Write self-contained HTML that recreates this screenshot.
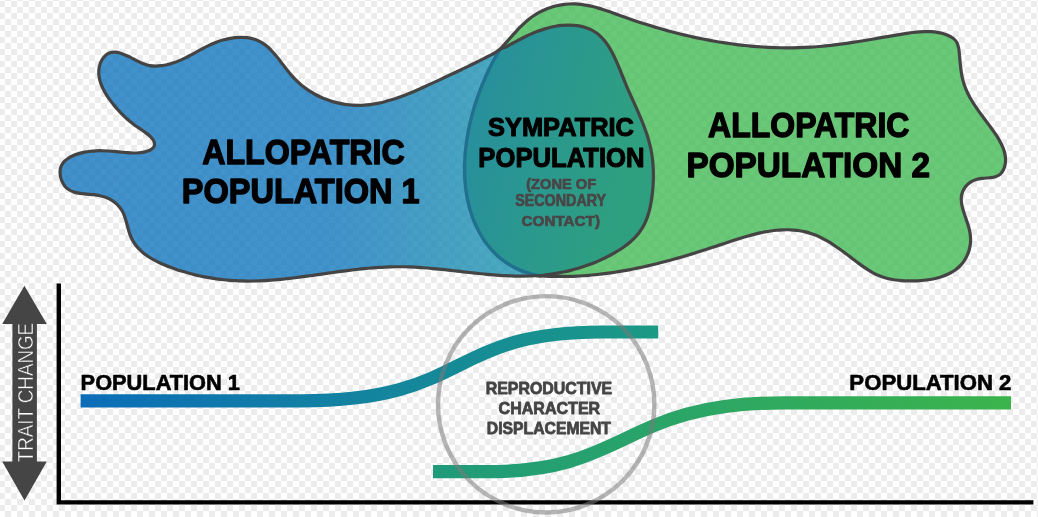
<!DOCTYPE html>
<html><head><meta charset="utf-8"><style>
html,body{margin:0;padding:0;width:1038px;height:517px;overflow:hidden;background:#fff;}
svg{display:block;will-change:transform;font-family:"Liberation Sans",sans-serif;}
</style></head><body>
<svg width="1038" height="517" viewBox="0 0 1038 517">
<defs>
<pattern id="chk" x="-1" y="1" width="12" height="12" patternUnits="userSpaceOnUse">
<rect width="12" height="12" fill="#ffffff"/><rect width="6" height="6" fill="#ececec"/><rect x="6" y="6" width="6" height="6" fill="#ececec"/>
</pattern>
<linearGradient id="gBlue" gradientUnits="userSpaceOnUse" x1="60" y1="0" x2="500" y2="0">
<stop offset="0" stop-color="#0d72bb"/><stop offset="0.6" stop-color="#0d74bd"/><stop offset="1" stop-color="#1890ae"/>
</linearGradient>
<linearGradient id="gOval" gradientUnits="userSpaceOnUse" x1="470" y1="130" x2="630" y2="170">
<stop offset="0" stop-color="#27909c"/><stop offset="1" stop-color="#2ea07f"/>
</linearGradient>
<linearGradient id="gPop1" gradientUnits="userSpaceOnUse" x1="80" y1="0" x2="658" y2="0">
<stop offset="0" stop-color="#0b6db8"/><stop offset="1" stop-color="#1b9a85"/>
</linearGradient>
<linearGradient id="gPop2" gradientUnits="userSpaceOnUse" x1="433" y1="0" x2="1011" y2="0">
<stop offset="0" stop-color="#1f9a7a"/><stop offset="1" stop-color="#3bb44c"/>
</linearGradient>
</defs>
<rect width="1038" height="517" fill="url(#chk)"/>
<path d="M500.00 49.30 C501.23 47.65 502.80 46.32 504.18 44.81 C505.55 43.30 506.89 41.78 508.23 40.27 C509.58 38.76 510.90 37.24 512.24 35.74 C513.58 34.24 514.91 32.75 516.27 31.29 C517.63 29.83 518.99 28.38 520.39 26.98 C521.79 25.57 523.21 24.19 524.67 22.86 C526.14 21.54 527.64 20.24 529.19 19.02 C530.74 17.79 532.34 16.60 534.00 15.49 C535.67 14.38 537.40 13.32 539.18 12.36 C540.99 11.38 542.86 10.48 544.77 9.66 C546.69 8.84 548.67 8.10 550.66 7.45 C552.66 6.79 554.71 6.22 556.75 5.74 C558.79 5.27 560.86 4.87 562.92 4.58 C564.96 4.29 567.01 4.09 569.04 3.99 C571.06 3.89 573.07 3.88 575.07 3.96 C577.06 4.03 579.04 4.19 581.01 4.42 C582.98 4.65 584.93 4.95 586.88 5.31 C588.82 5.67 590.76 6.10 592.68 6.57 C594.61 7.04 596.53 7.56 598.44 8.12 C600.36 8.67 602.26 9.28 604.16 9.90 C606.07 10.52 607.97 11.18 609.86 11.84 C611.76 12.51 613.66 13.20 615.56 13.88 C617.45 14.57 619.35 15.27 621.25 15.95 C623.16 16.64 625.06 17.32 626.97 17.99 C628.88 18.66 630.79 19.32 632.70 19.98 C634.62 20.63 636.54 21.27 638.46 21.91 C640.38 22.54 642.31 23.16 644.23 23.78 C646.16 24.39 648.09 25.00 650.03 25.59 C651.96 26.19 653.90 26.77 655.84 27.35 C657.78 27.92 659.72 28.48 661.67 29.04 C663.61 29.59 665.56 30.13 667.51 30.67 C669.46 31.20 671.42 31.72 673.37 32.23 C675.33 32.74 677.29 33.24 679.25 33.73 C681.21 34.22 683.17 34.70 685.14 35.16 C687.10 35.63 689.07 36.09 691.04 36.53 C693.01 36.97 694.98 37.40 696.96 37.82 C698.93 38.24 700.90 38.65 702.88 39.04 C704.86 39.44 706.84 39.82 708.82 40.19 C710.80 40.56 712.78 40.92 714.77 41.27 C716.75 41.61 718.74 41.95 720.72 42.27 C722.71 42.59 724.70 42.89 726.69 43.19 C728.68 43.48 730.67 43.76 732.66 44.03 C734.65 44.30 736.65 44.55 738.64 44.79 C740.63 45.03 742.63 45.26 744.63 45.47 C746.62 45.69 748.62 45.89 750.62 46.07 C752.61 46.26 754.61 46.43 756.61 46.58 C758.61 46.74 760.61 46.88 762.61 47.01 C764.61 47.14 766.61 47.25 768.61 47.35 C770.62 47.45 772.62 47.53 774.62 47.60 C776.62 47.67 778.62 47.72 780.63 47.76 C782.63 47.80 784.63 47.82 786.63 47.83 C788.64 47.84 790.64 47.83 792.64 47.81 C794.64 47.78 796.64 47.74 798.65 47.69 C800.65 47.63 802.65 47.56 804.65 47.47 C806.65 47.38 808.65 47.28 810.65 47.16 C812.65 47.04 814.65 46.90 816.65 46.74 C818.65 46.59 820.65 46.42 822.65 46.23 C824.64 46.05 826.64 45.84 828.64 45.62 C830.63 45.41 832.63 45.17 834.63 44.93 C836.62 44.68 838.62 44.42 840.62 44.15 C842.61 43.88 844.61 43.60 846.61 43.31 C848.61 43.02 850.61 42.72 852.61 42.41 C854.61 42.11 856.61 41.79 858.61 41.47 C860.61 41.15 862.61 40.82 864.62 40.48 C866.62 40.15 868.63 39.81 870.64 39.47 C872.65 39.13 874.66 38.78 876.67 38.44 C878.68 38.09 880.70 37.74 882.71 37.39 C884.73 37.05 886.75 36.70 888.78 36.35 C890.80 36.01 892.83 35.66 894.85 35.32 C896.88 34.98 898.92 34.64 900.95 34.31 C902.99 33.98 905.03 33.64 907.07 33.34 C909.10 33.04 911.14 32.74 913.18 32.49 C915.20 32.25 917.23 32.02 919.26 31.87 C921.27 31.71 923.28 31.59 925.28 31.56 C927.27 31.53 929.25 31.55 931.22 31.67 C933.17 31.79 935.13 31.98 937.05 32.30 C938.97 32.61 940.87 33.01 942.74 33.54 C944.61 34.07 946.50 34.69 948.27 35.49 C950.03 36.29 951.88 37.15 953.34 38.36 C954.75 39.53 956.03 40.98 956.92 42.59 C957.83 44.26 958.25 46.27 958.67 48.23 C959.10 50.26 959.21 52.44 959.44 54.56 C959.66 56.69 959.81 58.84 960.01 60.97 C960.21 63.09 960.40 65.20 960.65 67.29 C960.89 69.36 961.15 71.43 961.49 73.46 C961.83 75.46 962.21 77.45 962.69 79.39 C963.16 81.31 963.72 83.20 964.35 85.05 C964.98 86.89 965.69 88.69 966.46 90.46 C967.23 92.23 968.07 93.96 968.97 95.67 C969.86 97.39 970.82 99.07 971.82 100.73 C972.82 102.41 973.88 104.06 974.97 105.70 C976.06 107.36 977.20 108.99 978.36 110.62 C979.52 112.27 980.73 113.91 981.94 115.55 C983.16 117.21 984.42 118.87 985.67 120.54 C986.93 122.23 988.21 123.92 989.48 125.63 C990.75 127.36 992.05 129.10 993.28 130.86 C994.52 132.62 995.75 134.40 996.89 136.21 C998.03 138.00 999.13 139.81 1000.11 141.66 C1001.08 143.47 1002.00 145.31 1002.75 147.17 C1003.49 149.01 1004.15 150.87 1004.61 152.75 C1005.06 154.59 1005.40 156.48 1005.50 158.35 C1005.59 160.21 1005.53 162.12 1005.21 163.96 C1004.89 165.83 1004.39 167.79 1003.57 169.49 C1002.77 171.16 1001.73 172.89 1000.38 174.09 C999.04 175.28 997.29 176.08 995.53 176.69 C993.67 177.33 991.54 177.47 989.47 177.74 C987.31 178.01 985.04 178.02 982.84 178.30 C980.65 178.59 978.38 178.80 976.31 179.45 C974.27 180.09 972.25 180.99 970.50 182.15 C968.77 183.29 967.16 184.77 965.87 186.33 C964.60 187.84 963.51 189.59 962.76 191.36 C962.04 193.07 961.61 194.91 961.40 196.73 C961.18 198.57 961.28 200.46 961.47 202.34 C961.67 204.27 962.13 206.21 962.61 208.15 C963.10 210.14 963.77 212.13 964.41 214.12 C965.06 216.15 965.82 218.18 966.50 220.22 C967.18 222.28 967.90 224.34 968.48 226.42 C969.06 228.50 969.62 230.58 969.97 232.69 C970.32 234.77 970.56 236.88 970.59 238.97 C970.63 241.05 970.48 243.15 970.17 245.20 C969.87 247.23 969.40 249.25 968.78 251.19 C968.17 253.12 967.41 255.01 966.51 256.80 C965.62 258.57 964.59 260.28 963.44 261.86 C962.30 263.42 961.02 264.89 959.66 266.24 C958.29 267.59 956.80 268.82 955.25 269.95 C953.68 271.08 952.01 272.10 950.30 273.03 C948.57 273.96 946.75 274.79 944.90 275.53 C943.02 276.28 941.08 276.92 939.12 277.49 C937.14 278.07 935.11 278.55 933.07 278.97 C931.01 279.39 928.92 279.73 926.82 280.00 C924.71 280.28 922.58 280.49 920.46 280.64 C918.33 280.79 916.20 280.88 914.07 280.92 C911.96 280.97 909.84 280.96 907.74 280.90 C905.67 280.85 903.60 280.75 901.55 280.60 C899.52 280.44 897.51 280.24 895.52 279.96 C893.55 279.69 891.60 279.36 889.68 278.94 C887.77 278.53 885.89 278.05 884.04 277.48 C882.21 276.91 880.41 276.26 878.65 275.52 C876.89 274.79 875.17 273.95 873.48 273.06 C871.79 272.16 870.13 271.18 868.49 270.15 C866.83 269.12 865.21 268.02 863.59 266.90 C861.95 265.76 860.34 264.57 858.72 263.37 C857.08 262.16 855.45 260.90 853.81 259.65 C852.15 258.39 850.48 257.10 848.80 255.83 C847.10 254.55 845.39 253.26 843.66 251.99 C841.92 250.72 840.18 249.45 838.41 248.22 C836.64 246.99 834.86 245.77 833.06 244.60 C831.27 243.44 829.46 242.31 827.62 241.24 C825.81 240.18 823.97 239.15 822.12 238.21 C820.28 237.27 818.43 236.39 816.55 235.60 C814.70 234.82 812.82 234.12 810.94 233.50 C809.07 232.89 807.18 232.36 805.28 231.90 C803.40 231.45 801.50 231.07 799.59 230.77 C797.69 230.46 795.78 230.23 793.86 230.07 C791.95 229.90 790.03 229.81 788.11 229.77 C786.18 229.73 784.25 229.76 782.32 229.84 C780.38 229.92 778.44 230.06 776.51 230.25 C774.56 230.44 772.62 230.68 770.68 230.96 C768.72 231.24 766.77 231.58 764.83 231.94 C762.87 232.31 760.91 232.72 758.96 233.16 C757.00 233.61 755.04 234.09 753.08 234.59 C751.12 235.09 749.16 235.63 747.20 236.19 C745.23 236.74 743.27 237.33 741.31 237.93 C739.34 238.52 737.38 239.14 735.41 239.77 C733.45 240.40 731.48 241.04 729.52 241.69 C727.56 242.34 725.60 242.99 723.63 243.65 C721.67 244.30 719.71 244.96 717.75 245.62 C715.80 246.27 713.84 246.92 711.89 247.56 C709.93 248.21 707.98 248.84 706.03 249.47 C704.08 250.10 702.13 250.73 700.18 251.34 C698.23 251.96 696.29 252.57 694.34 253.17 C692.40 253.77 690.45 254.37 688.51 254.95 C686.56 255.54 684.62 256.12 682.68 256.69 C680.73 257.25 678.79 257.81 676.85 258.37 C674.91 258.92 672.97 259.46 671.02 259.99 C669.08 260.52 667.14 261.05 665.20 261.56 C663.26 262.07 661.32 262.58 659.37 263.07 C657.43 263.56 655.49 264.04 653.54 264.51 C651.60 264.98 649.65 265.44 647.71 265.89 C645.76 266.33 643.81 266.77 641.86 267.19 C639.92 267.62 637.97 268.03 636.01 268.43 C634.06 268.83 632.11 269.21 630.15 269.59 C628.20 269.96 626.24 270.32 624.28 270.66 C622.32 271.01 620.36 271.34 618.40 271.66 C616.43 271.98 614.47 272.28 612.50 272.57 C610.53 272.86 608.56 273.14 606.59 273.40 C604.61 273.66 602.63 273.90 600.65 274.13 C598.67 274.36 596.69 274.57 594.70 274.77 C592.71 274.97 590.72 275.15 588.73 275.31 C586.73 275.48 584.73 275.62 582.73 275.76 C580.73 275.89 578.72 276.00 576.71 276.09 C574.70 276.19 572.69 276.27 570.67 276.33 C568.65 276.39 566.62 276.43 564.60 276.45 C562.56 276.48 560.53 276.48 558.49 276.46 C556.45 276.45 554.41 276.42 552.36 276.36 C550.31 276.31 548.25 276.24 546.20 276.14 C544.13 276.05 542.15 276.07 540.00 275.80 C537.61 275.50 534.95 274.90 532.50 274.29 C530.09 273.70 527.73 273.01 525.42 272.23 C523.15 271.46 520.93 270.59 518.77 269.64 C516.64 268.70 514.56 267.67 512.54 266.56 C510.54 265.46 508.59 264.28 506.71 263.02 C504.85 261.77 503.04 260.44 501.29 259.04 C499.56 257.66 497.88 256.19 496.28 254.67 C494.67 253.15 493.13 251.56 491.65 249.92 C490.17 248.29 488.76 246.59 487.41 244.84 C486.07 243.09 484.78 241.29 483.56 239.45 C482.34 237.60 481.18 235.71 480.08 233.78 C478.98 231.85 477.95 229.87 476.98 227.87 C476.00 225.86 475.09 223.81 474.24 221.74 C473.38 219.66 472.59 217.56 471.85 215.43 C471.12 213.30 470.44 211.14 469.83 208.96 C469.21 206.79 468.65 204.59 468.14 202.37 C467.64 200.16 467.19 197.92 466.80 195.68 C466.41 193.43 466.07 191.16 465.78 188.88 C465.49 186.60 465.26 184.31 465.08 182.01 C464.89 179.71 464.76 177.39 464.67 175.07 C464.59 172.75 464.56 170.41 464.57 168.08 C464.58 165.74 464.64 163.39 464.74 161.05 C464.84 158.70 464.99 156.35 465.18 154.00 C465.37 151.64 465.61 149.28 465.88 146.93 C466.16 144.58 466.48 142.22 466.83 139.87 C467.19 137.52 467.59 135.17 468.02 132.83 C468.45 130.49 468.93 128.15 469.43 125.82 C469.94 123.49 470.48 121.17 471.06 118.85 C471.64 116.54 472.25 114.24 472.89 111.95 C473.54 109.66 474.21 107.38 474.92 105.12 C475.62 102.86 476.36 100.61 477.12 98.38 C477.89 96.15 478.68 93.93 479.50 91.74 C480.32 89.55 481.17 87.37 482.04 85.21 C482.91 83.07 483.80 80.93 484.73 78.82 C485.64 76.72 486.58 74.63 487.55 72.57 C488.51 70.52 489.49 68.49 490.50 66.48 C491.50 64.49 492.52 62.51 493.57 60.56 C494.60 58.63 495.66 56.72 496.74 54.83 C497.80 52.96 498.74 50.99 500.00 49.30 Z" fill="#3db94f" fill-opacity="0.77"/>
<path d="M500.00 49.30 C501.76 48.36 503.71 47.95 505.51 47.11 C507.34 46.25 509.08 45.15 510.87 44.19 C512.66 43.22 514.45 42.25 516.25 41.30 C518.06 40.35 519.86 39.41 521.68 38.49 C523.50 37.58 525.32 36.68 527.16 35.82 C528.99 34.97 530.84 34.13 532.70 33.34 C534.56 32.55 536.42 31.79 538.31 31.09 C540.19 30.39 542.09 29.73 544.01 29.13 C545.92 28.53 547.85 27.98 549.80 27.50 C551.75 27.02 553.71 26.60 555.70 26.26 C557.68 25.92 559.69 25.64 561.71 25.46 C563.74 25.27 565.80 25.15 567.85 25.14 C569.92 25.12 572.01 25.19 574.06 25.36 C576.12 25.54 578.18 25.80 580.18 26.19 C582.16 26.57 584.13 27.05 586.02 27.67 C587.87 28.28 589.69 29.00 591.40 29.87 C593.08 30.72 594.69 31.71 596.21 32.79 C597.73 33.88 599.16 35.09 600.51 36.38 C601.88 37.67 603.15 39.08 604.36 40.54 C605.58 42.02 606.72 43.59 607.81 45.20 C608.92 46.83 609.94 48.53 610.93 50.26 C611.93 52.02 612.87 53.83 613.78 55.67 C614.70 57.52 615.56 59.41 616.42 61.32 C617.27 63.23 618.09 65.18 618.90 67.14 C619.72 69.09 620.51 71.07 621.30 73.04 C622.10 75.01 622.87 76.99 623.67 78.95 C624.46 80.91 625.26 82.86 626.07 84.79 C626.88 86.71 627.71 88.62 628.53 90.51 C629.36 92.40 630.19 94.27 631.03 96.14 C631.85 97.99 632.69 99.84 633.52 101.68 C634.35 103.52 635.17 105.35 635.99 107.17 C636.80 108.99 637.61 110.81 638.40 112.63 C639.19 114.44 639.97 116.25 640.73 118.06 C641.49 119.87 642.23 121.68 642.95 123.50 C643.66 125.32 644.36 127.14 645.02 128.97 C645.68 130.80 646.32 132.64 646.93 134.48 C647.53 136.33 648.10 138.19 648.63 140.07 C649.16 141.94 649.66 143.83 650.10 145.73 C650.55 147.64 650.96 149.57 651.32 151.51 C651.68 153.46 651.99 155.43 652.25 157.41 C652.52 159.40 652.73 161.41 652.90 163.42 C653.07 165.44 653.20 167.48 653.28 169.52 C653.36 171.56 653.40 173.62 653.39 175.67 C653.39 177.73 653.34 179.80 653.25 181.86 C653.17 183.93 653.04 185.99 652.87 188.05 C652.71 190.11 652.50 192.17 652.26 194.23 C652.02 196.27 651.75 198.32 651.43 200.35 C651.10 202.36 650.74 204.38 650.32 206.37 C649.90 208.35 649.43 210.31 648.88 212.24 C648.34 214.16 647.74 216.06 647.06 217.91 C646.38 219.76 645.63 221.57 644.78 223.33 C643.94 225.08 643.02 226.80 641.99 228.44 C640.97 230.09 639.85 231.67 638.65 233.20 C637.45 234.73 636.15 236.20 634.80 237.62 C633.43 239.04 631.99 240.40 630.50 241.71 C629.00 243.02 627.43 244.28 625.83 245.49 C624.22 246.71 622.55 247.88 620.85 249.00 C619.15 250.13 617.41 251.20 615.64 252.24 C613.88 253.28 612.08 254.28 610.27 255.24 C608.46 256.21 606.64 257.13 604.80 258.03 C602.96 258.92 601.11 259.77 599.25 260.59 C597.39 261.41 595.52 262.20 593.64 262.95 C591.76 263.71 589.86 264.42 587.96 265.11 C586.06 265.79 584.15 266.44 582.23 267.06 C580.31 267.67 578.39 268.26 576.45 268.81 C574.52 269.36 572.58 269.88 570.63 270.36 C568.68 270.85 566.73 271.30 564.77 271.72 C562.81 272.14 560.84 272.53 558.87 272.89 C556.91 273.25 554.93 273.58 552.96 273.88 C550.98 274.17 549.08 274.37 547.02 274.67 C544.77 275.00 542.14 275.64 540.00 275.80 C538.23 275.93 536.82 275.70 535.11 275.73 C533.21 275.76 531.13 275.94 529.14 276.00 C527.15 276.07 525.16 276.11 523.17 276.12 C521.18 276.14 519.18 276.13 517.19 276.10 C515.20 276.07 513.20 276.02 511.21 275.96 C509.21 275.89 507.21 275.80 505.22 275.69 C503.22 275.59 501.22 275.47 499.23 275.33 C497.23 275.20 495.23 275.05 493.23 274.89 C491.23 274.72 489.23 274.55 487.23 274.36 C485.23 274.18 483.23 273.98 481.22 273.78 C479.22 273.58 477.22 273.37 475.22 273.15 C473.21 272.94 471.21 272.71 469.21 272.49 C467.20 272.26 465.20 272.03 463.19 271.81 C461.19 271.58 459.18 271.34 457.18 271.11 C455.17 270.89 453.17 270.65 451.16 270.43 C449.16 270.20 447.15 269.98 445.15 269.76 C443.14 269.55 441.13 269.33 439.13 269.13 C437.12 268.93 435.12 268.73 433.11 268.54 C431.10 268.36 429.10 268.18 427.09 268.02 C425.08 267.85 423.08 267.70 421.07 267.56 C419.06 267.43 417.06 267.30 415.05 267.19 C413.04 267.09 411.04 266.99 409.03 266.92 C407.03 266.85 405.02 266.80 403.02 266.77 C401.01 266.73 399.00 266.72 397.00 266.73 C394.99 266.75 392.99 266.78 390.99 266.83 C388.98 266.89 386.98 266.96 384.97 267.06 C382.97 267.15 380.97 267.26 378.96 267.39 C376.96 267.52 374.96 267.67 372.96 267.83 C370.95 267.99 368.95 268.16 366.95 268.35 C364.95 268.54 362.95 268.74 360.95 268.95 C358.94 269.17 356.94 269.39 354.94 269.63 C352.94 269.86 350.94 270.11 348.95 270.36 C346.95 270.61 344.95 270.87 342.95 271.13 C340.95 271.40 338.95 271.67 336.96 271.95 C334.96 272.22 332.96 272.50 330.96 272.78 C328.97 273.06 326.97 273.35 324.98 273.63 C322.98 273.92 320.99 274.21 318.99 274.49 C317.00 274.77 315.00 275.06 313.01 275.34 C311.02 275.61 309.02 275.89 307.03 276.16 C305.04 276.43 303.05 276.70 301.05 276.96 C299.06 277.22 297.07 277.48 295.08 277.72 C293.09 277.97 291.10 278.20 289.11 278.43 C287.13 278.65 285.14 278.87 283.15 279.07 C281.16 279.28 279.17 279.47 277.19 279.65 C275.20 279.82 273.21 279.99 271.23 280.14 C269.24 280.28 267.26 280.42 265.27 280.53 C263.29 280.64 261.31 280.74 259.32 280.82 C257.34 280.90 255.36 280.96 253.38 280.99 C251.40 281.03 249.41 281.05 247.43 281.04 C245.45 281.03 243.47 281.00 241.50 280.95 C239.52 280.89 237.54 280.81 235.56 280.71 C233.58 280.60 231.61 280.47 229.63 280.32 C227.66 280.16 225.68 279.98 223.71 279.77 C221.73 279.56 219.76 279.33 217.78 279.07 C215.81 278.81 213.84 278.52 211.87 278.20 C209.89 277.89 207.92 277.54 205.95 277.17 C203.98 276.80 202.01 276.40 200.04 275.97 C198.07 275.54 196.10 275.08 194.14 274.60 C192.17 274.11 190.20 273.59 188.24 273.05 C186.27 272.50 184.30 271.93 182.34 271.32 C180.37 270.71 178.40 270.08 176.44 269.41 C174.48 268.74 172.51 268.05 170.55 267.31 C168.59 266.58 166.63 265.82 164.70 265.01 C162.77 264.21 160.84 263.37 158.96 262.47 C157.09 261.57 155.23 260.64 153.43 259.64 C151.65 258.64 149.89 257.59 148.21 256.47 C146.54 255.35 144.91 254.18 143.37 252.92 C141.85 251.68 140.38 250.36 139.03 248.96 C137.68 247.56 136.40 246.09 135.26 244.52 C134.12 242.96 133.07 241.31 132.16 239.58 C131.25 237.83 130.50 235.97 129.81 234.09 C129.11 232.19 128.59 230.19 128.02 228.21 C127.45 226.23 126.99 224.20 126.42 222.22 C125.85 220.26 125.32 218.29 124.62 216.41 C123.92 214.58 123.18 212.75 122.23 211.08 C121.30 209.44 120.21 207.87 118.99 206.45 C117.78 205.03 116.41 203.73 114.95 202.56 C113.48 201.39 111.86 200.34 110.19 199.43 C108.49 198.51 106.68 197.73 104.83 197.07 C102.94 196.41 100.96 195.90 98.96 195.49 C96.92 195.08 94.81 194.86 92.71 194.62 C90.60 194.39 88.44 194.29 86.33 194.08 C84.23 193.88 82.11 193.73 80.07 193.40 C78.07 193.07 76.07 192.73 74.20 192.12 C72.38 191.52 70.57 190.80 68.98 189.77 C67.39 188.74 65.89 187.44 64.68 185.91 C63.40 184.28 62.35 182.23 61.58 180.21 C60.80 178.13 60.23 175.75 60.10 173.57 C59.97 171.50 60.12 169.32 60.70 167.44 C61.25 165.65 62.23 163.97 63.37 162.52 C64.53 161.05 66.05 159.79 67.61 158.68 C69.22 157.53 71.06 156.61 72.90 155.77 C74.76 154.93 76.75 154.25 78.70 153.65 C80.64 153.06 82.61 152.58 84.58 152.18 C86.53 151.78 88.48 151.49 90.44 151.26 C92.40 151.03 94.36 150.89 96.32 150.80 C98.29 150.72 100.27 150.71 102.25 150.74 C104.25 150.77 106.25 150.86 108.26 150.98 C110.29 151.10 112.33 151.27 114.38 151.45 C116.45 151.64 118.54 151.87 120.64 152.07 C122.74 152.27 124.86 152.50 126.97 152.66 C129.07 152.81 131.18 152.96 133.27 152.98 C135.32 153.00 137.37 152.98 139.38 152.78 C141.35 152.59 143.31 152.32 145.19 151.83 C147.03 151.34 149.02 150.82 150.54 149.87 C151.96 148.98 153.55 147.80 154.13 146.41 C154.70 145.05 154.54 143.16 154.07 141.66 C153.56 140.05 152.24 138.52 150.97 137.11 C149.58 135.57 147.72 134.22 145.96 132.87 C144.13 131.48 142.08 130.22 140.18 128.91 C138.35 127.65 136.48 126.44 134.76 125.18 C133.12 123.99 131.56 122.80 130.06 121.57 C128.61 120.38 127.23 119.17 125.88 117.92 C124.54 116.68 123.26 115.42 121.97 114.10 C120.66 112.76 119.38 111.38 118.10 109.94 C116.77 108.46 115.43 106.93 114.13 105.36 C112.81 103.75 111.49 102.09 110.24 100.39 C108.98 98.68 107.74 96.92 106.61 95.11 C105.48 93.31 104.39 91.46 103.45 89.58 C102.51 87.72 101.64 85.81 100.95 83.87 C100.27 81.96 99.68 80.01 99.31 78.05 C98.95 76.11 98.72 74.13 98.74 72.18 C98.76 70.23 98.97 68.23 99.43 66.33 C99.89 64.42 100.57 62.48 101.49 60.76 C102.38 59.07 103.49 57.39 104.82 56.10 C106.12 54.83 107.67 53.68 109.33 53.02 C111.02 52.36 112.99 52.14 114.90 52.19 C116.93 52.24 119.09 52.85 121.16 53.47 C123.31 54.11 125.48 55.09 127.56 56.02 C129.60 56.93 131.58 58.00 133.52 58.97 C135.38 59.91 137.15 60.90 138.96 61.76 C140.71 62.60 142.42 63.43 144.21 64.07 C145.97 64.71 147.76 65.27 149.61 65.60 C151.50 65.95 153.48 66.10 155.45 66.11 C157.47 66.13 159.55 65.94 161.59 65.68 C163.65 65.41 165.73 64.99 167.74 64.51 C169.75 64.02 171.72 63.43 173.66 62.78 C175.58 62.13 177.46 61.40 179.32 60.62 C181.17 59.85 182.99 59.00 184.80 58.13 C186.60 57.27 188.37 56.34 190.14 55.42 C191.91 54.49 193.66 53.53 195.42 52.58 C197.18 51.62 198.93 50.65 200.69 49.71 C202.45 48.77 204.22 47.82 206.01 46.92 C207.80 46.02 209.60 45.13 211.43 44.31 C213.27 43.49 215.13 42.69 217.02 41.98 C218.93 41.27 220.87 40.61 222.84 40.04 C224.82 39.47 226.84 38.96 228.87 38.56 C230.90 38.16 232.96 37.84 235.00 37.63 C237.04 37.42 239.09 37.30 241.12 37.30 C243.12 37.31 245.13 37.41 247.09 37.65 C249.02 37.89 250.95 38.24 252.80 38.74 C254.63 39.24 256.42 39.87 258.13 40.64 C259.82 41.41 261.44 42.35 263.00 43.38 C264.56 44.41 266.04 45.59 267.48 46.83 C268.93 48.08 270.31 49.45 271.65 50.86 C273.02 52.28 274.32 53.80 275.62 55.33 C276.93 56.88 278.19 58.49 279.45 60.10 C280.73 61.73 281.98 63.40 283.26 65.05 C284.53 66.70 285.80 68.38 287.11 70.02 C288.42 71.66 289.73 73.30 291.10 74.88 C292.47 76.45 293.87 78.01 295.33 79.49 C296.79 80.97 298.30 82.39 299.85 83.75 C301.40 85.11 303.01 86.40 304.65 87.63 C306.29 88.87 307.97 90.04 309.69 91.14 C311.41 92.25 313.17 93.29 314.96 94.27 C316.74 95.25 318.56 96.16 320.41 97.01 C322.25 97.86 324.13 98.65 326.02 99.37 C327.91 100.10 329.83 100.75 331.76 101.35 C333.69 101.94 335.64 102.46 337.60 102.93 C339.56 103.39 341.54 103.78 343.52 104.11 C345.49 104.44 347.48 104.70 349.47 104.90 C351.45 105.10 353.44 105.23 355.43 105.29 C357.41 105.35 359.40 105.35 361.38 105.28 C363.35 105.21 365.33 105.07 367.29 104.88 C369.26 104.69 371.22 104.44 373.17 104.13 C375.13 103.83 377.08 103.47 379.03 103.06 C380.97 102.65 382.91 102.20 384.84 101.70 C386.78 101.20 388.71 100.66 390.63 100.08 C392.56 99.50 394.47 98.88 396.38 98.23 C398.30 97.58 400.20 96.90 402.10 96.19 C404.01 95.48 405.90 94.74 407.79 93.98 C409.68 93.23 411.56 92.44 413.44 91.65 C415.32 90.85 417.19 90.03 419.06 89.21 C420.93 88.39 422.79 87.55 424.64 86.70 C426.50 85.86 428.34 85.01 430.19 84.16 C432.03 83.32 433.87 82.46 435.70 81.62 C437.53 80.77 439.36 79.92 441.18 79.08 C443.00 78.23 444.81 77.39 446.63 76.54 C448.44 75.70 450.24 74.86 452.05 74.01 C453.85 73.16 455.65 72.32 457.44 71.46 C459.24 70.61 461.03 69.76 462.82 68.90 C464.61 68.05 466.40 67.19 468.18 66.32 C469.96 65.46 471.75 64.59 473.52 63.71 C475.31 62.84 477.08 61.95 478.86 61.07 C480.64 60.18 482.42 59.28 484.19 58.38 C485.97 57.48 487.74 56.57 489.52 55.65 C491.29 54.73 493.11 53.90 494.84 52.86 C496.61 51.79 498.20 50.27 500.00 49.30 Z" fill="url(#gBlue)" fill-opacity="0.78"/>
<path d="M500.00 49.30 C501.45 48.06 503.71 47.95 505.51 47.11 C507.34 46.25 509.08 45.15 510.87 44.19 C512.66 43.22 514.45 42.25 516.25 41.30 C518.06 40.35 519.86 39.41 521.68 38.49 C523.50 37.58 525.32 36.68 527.16 35.82 C528.99 34.97 530.84 34.13 532.70 33.34 C534.56 32.55 536.42 31.79 538.31 31.09 C540.19 30.39 542.09 29.73 544.01 29.13 C545.92 28.53 547.85 27.98 549.80 27.50 C551.75 27.02 553.71 26.60 555.70 26.26 C557.68 25.92 559.69 25.64 561.71 25.46 C563.74 25.27 565.80 25.15 567.85 25.14 C569.92 25.12 572.01 25.19 574.06 25.36 C576.12 25.54 578.18 25.80 580.18 26.19 C582.16 26.57 584.13 27.05 586.02 27.67 C587.87 28.28 589.69 29.00 591.40 29.87 C593.08 30.72 594.69 31.71 596.21 32.79 C597.73 33.88 599.16 35.09 600.51 36.38 C601.88 37.67 603.15 39.08 604.36 40.54 C605.58 42.02 606.72 43.59 607.81 45.20 C608.92 46.83 609.94 48.53 610.93 50.26 C611.93 52.02 612.87 53.83 613.78 55.67 C614.70 57.52 615.56 59.41 616.42 61.32 C617.27 63.23 618.09 65.18 618.90 67.14 C619.72 69.09 620.51 71.07 621.30 73.04 C622.10 75.01 622.87 76.99 623.67 78.95 C624.46 80.91 625.26 82.86 626.07 84.79 C626.88 86.71 627.71 88.62 628.53 90.51 C629.36 92.40 630.19 94.27 631.03 96.14 C631.85 97.99 632.69 99.84 633.52 101.68 C634.35 103.52 635.17 105.35 635.99 107.17 C636.80 108.99 637.61 110.81 638.40 112.63 C639.19 114.44 639.97 116.25 640.73 118.06 C641.49 119.87 642.23 121.68 642.95 123.50 C643.66 125.32 644.36 127.14 645.02 128.97 C645.68 130.80 646.32 132.64 646.93 134.48 C647.53 136.33 648.10 138.19 648.63 140.07 C649.16 141.94 649.66 143.83 650.10 145.73 C650.55 147.64 650.96 149.57 651.32 151.51 C651.68 153.46 651.99 155.43 652.25 157.41 C652.52 159.40 652.73 161.41 652.90 163.42 C653.07 165.44 653.20 167.48 653.28 169.52 C653.36 171.56 653.40 173.62 653.39 175.67 C653.39 177.73 653.34 179.80 653.25 181.86 C653.17 183.93 653.04 185.99 652.87 188.05 C652.71 190.11 652.50 192.17 652.26 194.23 C652.02 196.27 651.75 198.32 651.43 200.35 C651.10 202.36 650.74 204.38 650.32 206.37 C649.90 208.35 649.43 210.31 648.88 212.24 C648.34 214.16 647.74 216.06 647.06 217.91 C646.38 219.76 645.63 221.57 644.78 223.33 C643.94 225.08 643.02 226.80 641.99 228.44 C640.97 230.09 639.85 231.67 638.65 233.20 C637.45 234.73 636.15 236.20 634.80 237.62 C633.43 239.04 631.99 240.40 630.50 241.71 C629.00 243.02 627.43 244.28 625.83 245.49 C624.22 246.71 622.55 247.88 620.85 249.00 C619.15 250.13 617.41 251.20 615.64 252.24 C613.88 253.28 612.08 254.28 610.27 255.24 C608.46 256.21 606.64 257.13 604.80 258.03 C602.96 258.92 601.11 259.77 599.25 260.59 C597.39 261.41 595.52 262.20 593.64 262.95 C591.76 263.71 589.86 264.42 587.96 265.11 C586.06 265.79 584.15 266.44 582.23 267.06 C580.31 267.67 578.39 268.26 576.45 268.81 C574.52 269.36 572.58 269.88 570.63 270.36 C568.68 270.85 566.73 271.30 564.77 271.72 C562.81 272.14 560.84 272.53 558.87 272.89 C556.91 273.25 554.93 273.58 552.96 273.88 C550.98 274.17 549.08 274.37 547.02 274.67 C544.77 275.00 542.37 275.85 540.00 275.80 C537.54 275.75 534.95 274.90 532.50 274.29 C530.09 273.70 527.73 273.01 525.42 272.23 C523.15 271.46 520.93 270.59 518.77 269.64 C516.64 268.70 514.56 267.67 512.54 266.56 C510.54 265.46 508.59 264.28 506.71 263.02 C504.85 261.77 503.04 260.44 501.29 259.04 C499.56 257.66 497.88 256.19 496.28 254.67 C494.67 253.15 493.13 251.56 491.65 249.92 C490.17 248.29 488.76 246.59 487.41 244.84 C486.07 243.09 484.78 241.29 483.56 239.45 C482.34 237.60 481.18 235.71 480.08 233.78 C478.98 231.85 477.95 229.87 476.98 227.87 C476.00 225.86 475.09 223.81 474.24 221.74 C473.38 219.66 472.59 217.56 471.85 215.43 C471.12 213.30 470.44 211.14 469.83 208.96 C469.21 206.79 468.65 204.59 468.14 202.37 C467.64 200.16 467.19 197.92 466.80 195.68 C466.41 193.43 466.07 191.16 465.78 188.88 C465.49 186.60 465.26 184.31 465.08 182.01 C464.89 179.71 464.76 177.39 464.67 175.07 C464.59 172.75 464.56 170.41 464.57 168.08 C464.58 165.74 464.64 163.39 464.74 161.05 C464.84 158.70 464.99 156.35 465.18 154.00 C465.37 151.64 465.61 149.28 465.88 146.93 C466.16 144.58 466.48 142.22 466.83 139.87 C467.19 137.52 467.59 135.17 468.02 132.83 C468.45 130.49 468.93 128.15 469.43 125.82 C469.94 123.49 470.48 121.17 471.06 118.85 C471.64 116.54 472.25 114.24 472.89 111.95 C473.54 109.66 474.21 107.38 474.92 105.12 C475.62 102.86 476.36 100.61 477.12 98.38 C477.89 96.15 478.68 93.93 479.50 91.74 C480.32 89.55 481.17 87.37 482.04 85.21 C482.91 83.07 483.80 80.93 484.73 78.82 C485.64 76.72 486.58 74.63 487.55 72.57 C488.51 70.52 489.49 68.49 490.50 66.48 C491.50 64.49 492.52 62.51 493.57 60.56 C494.60 58.63 495.66 56.72 496.74 54.83 C497.80 52.96 498.49 50.59 500.00 49.30 Z" fill="url(#gOval)" fill-opacity="1"/>
<path d="M500.00 49.30 C498.91 51.14 497.80 52.96 496.74 54.83 C495.66 56.72 494.60 58.63 493.57 60.56 C492.52 62.51 491.50 64.49 490.50 66.48 C489.49 68.49 488.51 70.52 487.55 72.57 C486.58 74.63 485.64 76.72 484.73 78.82 C483.80 80.93 482.91 83.07 482.04 85.21 C481.17 87.37 480.32 89.55 479.50 91.74 C478.68 93.93 477.89 96.15 477.12 98.38 C476.36 100.61 475.62 102.86 474.92 105.12 C474.21 107.38 473.54 109.66 472.89 111.95 C472.25 114.24 471.64 116.54 471.06 118.85 C470.48 121.17 469.94 123.49 469.43 125.82 C468.93 128.15 468.45 130.49 468.02 132.83 C467.59 135.17 467.19 137.52 466.83 139.87 C466.48 142.22 466.16 144.58 465.88 146.93 C465.61 149.28 465.37 151.64 465.18 154.00 C464.99 156.35 464.84 158.70 464.74 161.05 C464.64 163.39 464.58 165.74 464.57 168.08 C464.56 170.41 464.59 172.75 464.67 175.07 C464.76 177.39 464.89 179.71 465.08 182.01 C465.26 184.31 465.49 186.60 465.78 188.88 C466.07 191.16 466.41 193.43 466.80 195.68 C467.19 197.92 467.64 200.16 468.14 202.37 C468.65 204.59 469.21 206.79 469.83 208.96 C470.44 211.14 471.12 213.30 471.85 215.43 C472.59 217.56 473.38 219.66 474.24 221.74 C475.09 223.81 476.00 225.86 476.98 227.87 C477.95 229.87 478.98 231.85 480.08 233.78 C481.18 235.71 482.34 237.60 483.56 239.45 C484.78 241.29 486.07 243.09 487.41 244.84 C488.76 246.59 490.17 248.29 491.65 249.92 C493.13 251.56 494.67 253.15 496.28 254.67 C497.88 256.19 499.56 257.66 501.29 259.04 C503.04 260.44 504.85 261.77 506.71 263.02 C508.59 264.28 510.54 265.46 512.54 266.56 C514.56 267.67 516.64 268.70 518.77 269.64 C520.93 270.59 523.15 271.46 525.42 272.23 C527.73 273.01 530.09 273.70 532.50 274.29 C534.95 274.90 537.50 275.30 540.00 275.80" fill="none" stroke="#22708f" stroke-width="3.4"/>
<path d="M500.00 49.30 C501.39 47.80 502.80 46.32 504.18 44.81 C505.55 43.30 506.89 41.78 508.23 40.27 C509.58 38.76 510.90 37.24 512.24 35.74 C513.58 34.24 514.91 32.75 516.27 31.29 C517.63 29.83 518.99 28.38 520.39 26.98 C521.79 25.57 523.21 24.19 524.67 22.86 C526.14 21.54 527.64 20.24 529.19 19.02 C530.74 17.79 532.34 16.60 534.00 15.49 C535.67 14.38 537.40 13.32 539.18 12.36 C540.99 11.38 542.86 10.48 544.77 9.66 C546.69 8.84 548.67 8.10 550.66 7.45 C552.66 6.79 554.71 6.22 556.75 5.74 C558.79 5.27 560.86 4.87 562.92 4.58 C564.96 4.29 567.01 4.09 569.04 3.99 C571.06 3.89 573.07 3.88 575.07 3.96 C577.06 4.03 579.04 4.19 581.01 4.42 C582.98 4.65 584.93 4.95 586.88 5.31 C588.82 5.67 590.76 6.10 592.68 6.57 C594.61 7.04 596.53 7.56 598.44 8.12 C600.36 8.67 602.26 9.28 604.16 9.90 C606.07 10.52 607.97 11.18 609.86 11.84 C611.76 12.51 613.66 13.20 615.56 13.88 C617.45 14.57 619.35 15.27 621.25 15.95 C623.16 16.64 625.06 17.32 626.97 17.99 C628.88 18.66 630.79 19.32 632.70 19.98 C634.62 20.63 636.54 21.27 638.46 21.91 C640.38 22.54 642.31 23.16 644.23 23.78 C646.16 24.39 648.09 25.00 650.03 25.59 C651.96 26.19 653.90 26.77 655.84 27.35 C657.78 27.92 659.72 28.48 661.67 29.04 C663.61 29.59 665.56 30.13 667.51 30.67 C669.46 31.20 671.42 31.72 673.37 32.23 C675.33 32.74 677.29 33.24 679.25 33.73 C681.21 34.22 683.17 34.70 685.14 35.16 C687.10 35.63 689.07 36.09 691.04 36.53 C693.01 36.97 694.98 37.40 696.96 37.82 C698.93 38.24 700.90 38.65 702.88 39.04 C704.86 39.44 706.84 39.82 708.82 40.19 C710.80 40.56 712.78 40.92 714.77 41.27 C716.75 41.61 718.74 41.95 720.72 42.27 C722.71 42.59 724.70 42.89 726.69 43.19 C728.68 43.48 730.67 43.76 732.66 44.03 C734.65 44.30 736.65 44.55 738.64 44.79 C740.63 45.03 742.63 45.26 744.63 45.47 C746.62 45.69 748.62 45.89 750.62 46.07 C752.61 46.26 754.61 46.43 756.61 46.58 C758.61 46.74 760.61 46.88 762.61 47.01 C764.61 47.14 766.61 47.25 768.61 47.35 C770.62 47.45 772.62 47.53 774.62 47.60 C776.62 47.67 778.62 47.72 780.63 47.76 C782.63 47.80 784.63 47.82 786.63 47.83 C788.64 47.84 790.64 47.83 792.64 47.81 C794.64 47.78 796.64 47.74 798.65 47.69 C800.65 47.63 802.65 47.56 804.65 47.47 C806.65 47.38 808.65 47.28 810.65 47.16 C812.65 47.04 814.65 46.90 816.65 46.74 C818.65 46.59 820.65 46.42 822.65 46.23 C824.64 46.05 826.64 45.84 828.64 45.62 C830.63 45.41 832.63 45.17 834.63 44.93 C836.62 44.68 838.62 44.42 840.62 44.15 C842.61 43.88 844.61 43.60 846.61 43.31 C848.61 43.02 850.61 42.72 852.61 42.41 C854.61 42.11 856.61 41.79 858.61 41.47 C860.61 41.15 862.61 40.82 864.62 40.48 C866.62 40.15 868.63 39.81 870.64 39.47 C872.65 39.13 874.66 38.78 876.67 38.44 C878.68 38.09 880.70 37.74 882.71 37.39 C884.73 37.05 886.75 36.70 888.78 36.35 C890.80 36.01 892.83 35.66 894.85 35.32 C896.88 34.98 898.92 34.64 900.95 34.31 C902.99 33.98 905.03 33.64 907.07 33.34 C909.10 33.04 911.14 32.74 913.18 32.49 C915.20 32.25 917.23 32.02 919.26 31.87 C921.27 31.71 923.28 31.59 925.28 31.56 C927.27 31.53 929.25 31.55 931.22 31.67 C933.17 31.79 935.13 31.98 937.05 32.30 C938.97 32.61 940.87 33.01 942.74 33.54 C944.61 34.07 946.50 34.69 948.27 35.49 C950.03 36.29 951.88 37.15 953.34 38.36 C954.75 39.53 956.03 40.98 956.92 42.59 C957.83 44.26 958.25 46.27 958.67 48.23 C959.10 50.26 959.21 52.44 959.44 54.56 C959.66 56.69 959.81 58.84 960.01 60.97 C960.21 63.09 960.40 65.20 960.65 67.29 C960.89 69.36 961.15 71.43 961.49 73.46 C961.83 75.46 962.21 77.45 962.69 79.39 C963.16 81.31 963.72 83.20 964.35 85.05 C964.98 86.89 965.69 88.69 966.46 90.46 C967.23 92.23 968.07 93.96 968.97 95.67 C969.86 97.39 970.82 99.07 971.82 100.73 C972.82 102.41 973.88 104.06 974.97 105.70 C976.06 107.36 977.20 108.99 978.36 110.62 C979.52 112.27 980.73 113.91 981.94 115.55 C983.16 117.21 984.42 118.87 985.67 120.54 C986.93 122.23 988.21 123.92 989.48 125.63 C990.75 127.36 992.05 129.10 993.28 130.86 C994.52 132.62 995.75 134.40 996.89 136.21 C998.03 138.00 999.13 139.81 1000.11 141.66 C1001.08 143.47 1002.00 145.31 1002.75 147.17 C1003.49 149.01 1004.15 150.87 1004.61 152.75 C1005.06 154.59 1005.40 156.48 1005.50 158.35 C1005.59 160.21 1005.53 162.12 1005.21 163.96 C1004.89 165.83 1004.39 167.79 1003.57 169.49 C1002.77 171.16 1001.73 172.89 1000.38 174.09 C999.04 175.28 997.29 176.08 995.53 176.69 C993.67 177.33 991.54 177.47 989.47 177.74 C987.31 178.01 985.04 178.02 982.84 178.30 C980.65 178.59 978.38 178.80 976.31 179.45 C974.27 180.09 972.25 180.99 970.50 182.15 C968.77 183.29 967.16 184.77 965.87 186.33 C964.60 187.84 963.51 189.59 962.76 191.36 C962.04 193.07 961.61 194.91 961.40 196.73 C961.18 198.57 961.28 200.46 961.47 202.34 C961.67 204.27 962.13 206.21 962.61 208.15 C963.10 210.14 963.77 212.13 964.41 214.12 C965.06 216.15 965.82 218.18 966.50 220.22 C967.18 222.28 967.90 224.34 968.48 226.42 C969.06 228.50 969.62 230.58 969.97 232.69 C970.32 234.77 970.56 236.88 970.59 238.97 C970.63 241.05 970.48 243.15 970.17 245.20 C969.87 247.23 969.40 249.25 968.78 251.19 C968.17 253.12 967.41 255.01 966.51 256.80 C965.62 258.57 964.59 260.28 963.44 261.86 C962.30 263.42 961.02 264.89 959.66 266.24 C958.29 267.59 956.80 268.82 955.25 269.95 C953.68 271.08 952.01 272.10 950.30 273.03 C948.57 273.96 946.75 274.79 944.90 275.53 C943.02 276.28 941.08 276.92 939.12 277.49 C937.14 278.07 935.11 278.55 933.07 278.97 C931.01 279.39 928.92 279.73 926.82 280.00 C924.71 280.28 922.58 280.49 920.46 280.64 C918.33 280.79 916.20 280.88 914.07 280.92 C911.96 280.97 909.84 280.96 907.74 280.90 C905.67 280.85 903.60 280.75 901.55 280.60 C899.52 280.44 897.51 280.24 895.52 279.96 C893.55 279.69 891.60 279.36 889.68 278.94 C887.77 278.53 885.89 278.05 884.04 277.48 C882.21 276.91 880.41 276.26 878.65 275.52 C876.89 274.79 875.17 273.95 873.48 273.06 C871.79 272.16 870.13 271.18 868.49 270.15 C866.83 269.12 865.21 268.02 863.59 266.90 C861.95 265.76 860.34 264.57 858.72 263.37 C857.08 262.16 855.45 260.90 853.81 259.65 C852.15 258.39 850.48 257.10 848.80 255.83 C847.10 254.55 845.39 253.26 843.66 251.99 C841.92 250.72 840.18 249.45 838.41 248.22 C836.64 246.99 834.86 245.77 833.06 244.60 C831.27 243.44 829.46 242.31 827.62 241.24 C825.81 240.18 823.97 239.15 822.12 238.21 C820.28 237.27 818.43 236.39 816.55 235.60 C814.70 234.82 812.82 234.12 810.94 233.50 C809.07 232.89 807.18 232.36 805.28 231.90 C803.40 231.45 801.50 231.07 799.59 230.77 C797.69 230.46 795.78 230.23 793.86 230.07 C791.95 229.90 790.03 229.81 788.11 229.77 C786.18 229.73 784.25 229.76 782.32 229.84 C780.38 229.92 778.44 230.06 776.51 230.25 C774.56 230.44 772.62 230.68 770.68 230.96 C768.72 231.24 766.77 231.58 764.83 231.94 C762.87 232.31 760.91 232.72 758.96 233.16 C757.00 233.61 755.04 234.09 753.08 234.59 C751.12 235.09 749.16 235.63 747.20 236.19 C745.23 236.74 743.27 237.33 741.31 237.93 C739.34 238.52 737.38 239.14 735.41 239.77 C733.45 240.40 731.48 241.04 729.52 241.69 C727.56 242.34 725.60 242.99 723.63 243.65 C721.67 244.30 719.71 244.96 717.75 245.62 C715.80 246.27 713.84 246.92 711.89 247.56 C709.93 248.21 707.98 248.84 706.03 249.47 C704.08 250.10 702.13 250.73 700.18 251.34 C698.23 251.96 696.29 252.57 694.34 253.17 C692.40 253.77 690.45 254.37 688.51 254.95 C686.56 255.54 684.62 256.12 682.68 256.69 C680.73 257.25 678.79 257.81 676.85 258.37 C674.91 258.92 672.97 259.46 671.02 259.99 C669.08 260.52 667.14 261.05 665.20 261.56 C663.26 262.07 661.32 262.58 659.37 263.07 C657.43 263.56 655.49 264.04 653.54 264.51 C651.60 264.98 649.65 265.44 647.71 265.89 C645.76 266.33 643.81 266.77 641.86 267.19 C639.92 267.62 637.97 268.03 636.01 268.43 C634.06 268.83 632.11 269.21 630.15 269.59 C628.20 269.96 626.24 270.32 624.28 270.66 C622.32 271.01 620.36 271.34 618.40 271.66 C616.43 271.98 614.47 272.28 612.50 272.57 C610.53 272.86 608.56 273.14 606.59 273.40 C604.61 273.66 602.63 273.90 600.65 274.13 C598.67 274.36 596.69 274.57 594.70 274.77 C592.71 274.97 590.72 275.15 588.73 275.31 C586.73 275.48 584.73 275.62 582.73 275.76 C580.73 275.89 578.72 276.00 576.71 276.09 C574.70 276.19 572.69 276.27 570.67 276.33 C568.65 276.39 566.62 276.43 564.60 276.45 C562.56 276.48 560.53 276.48 558.49 276.46 C556.45 276.45 554.41 276.42 552.36 276.36 C550.31 276.31 548.25 276.24 546.20 276.14 C544.13 276.05 542.07 275.91 540.00 275.80" fill="none" stroke="#444444" stroke-width="3.2" stroke-linecap="round"/>
<path d="M500.00 49.30 C501.76 48.36 503.71 47.95 505.51 47.11 C507.34 46.25 509.08 45.15 510.87 44.19 C512.66 43.22 514.45 42.25 516.25 41.30 C518.06 40.35 519.86 39.41 521.68 38.49 C523.50 37.58 525.32 36.68 527.16 35.82 C528.99 34.97 530.84 34.13 532.70 33.34 C534.56 32.55 536.42 31.79 538.31 31.09 C540.19 30.39 542.09 29.73 544.01 29.13 C545.92 28.53 547.85 27.98 549.80 27.50 C551.75 27.02 553.71 26.60 555.70 26.26 C557.68 25.92 559.69 25.64 561.71 25.46 C563.74 25.27 565.80 25.15 567.85 25.14 C569.92 25.12 572.01 25.19 574.06 25.36 C576.12 25.54 578.18 25.80 580.18 26.19 C582.16 26.57 584.13 27.05 586.02 27.67 C587.87 28.28 589.69 29.00 591.40 29.87 C593.08 30.72 594.69 31.71 596.21 32.79 C597.73 33.88 599.16 35.09 600.51 36.38 C601.88 37.67 603.15 39.08 604.36 40.54 C605.58 42.02 606.72 43.59 607.81 45.20 C608.92 46.83 609.94 48.53 610.93 50.26 C611.93 52.02 612.87 53.83 613.78 55.67 C614.70 57.52 615.56 59.41 616.42 61.32 C617.27 63.23 618.09 65.18 618.90 67.14 C619.72 69.09 620.51 71.07 621.30 73.04 C622.10 75.01 622.87 76.99 623.67 78.95 C624.46 80.91 625.26 82.86 626.07 84.79 C626.88 86.71 627.71 88.62 628.53 90.51 C629.36 92.40 630.19 94.27 631.03 96.14 C631.85 97.99 632.69 99.84 633.52 101.68 C634.35 103.52 635.17 105.35 635.99 107.17 C636.80 108.99 637.61 110.81 638.40 112.63 C639.19 114.44 639.97 116.25 640.73 118.06 C641.49 119.87 642.23 121.68 642.95 123.50 C643.66 125.32 644.36 127.14 645.02 128.97 C645.68 130.80 646.32 132.64 646.93 134.48 C647.53 136.33 648.10 138.19 648.63 140.07 C649.16 141.94 649.66 143.83 650.10 145.73 C650.55 147.64 650.96 149.57 651.32 151.51 C651.68 153.46 651.99 155.43 652.25 157.41 C652.52 159.40 652.73 161.41 652.90 163.42 C653.07 165.44 653.20 167.48 653.28 169.52 C653.36 171.56 653.40 173.62 653.39 175.67 C653.39 177.73 653.34 179.80 653.25 181.86 C653.17 183.93 653.04 185.99 652.87 188.05 C652.71 190.11 652.50 192.17 652.26 194.23 C652.02 196.27 651.75 198.32 651.43 200.35 C651.10 202.36 650.74 204.38 650.32 206.37 C649.90 208.35 649.43 210.31 648.88 212.24 C648.34 214.16 647.74 216.06 647.06 217.91 C646.38 219.76 645.63 221.57 644.78 223.33 C643.94 225.08 643.02 226.80 641.99 228.44 C640.97 230.09 639.85 231.67 638.65 233.20 C637.45 234.73 636.15 236.20 634.80 237.62 C633.43 239.04 631.99 240.40 630.50 241.71 C629.00 243.02 627.43 244.28 625.83 245.49 C624.22 246.71 622.55 247.88 620.85 249.00 C619.15 250.13 617.41 251.20 615.64 252.24 C613.88 253.28 612.08 254.28 610.27 255.24 C608.46 256.21 606.64 257.13 604.80 258.03 C602.96 258.92 601.11 259.77 599.25 260.59 C597.39 261.41 595.52 262.20 593.64 262.95 C591.76 263.71 589.86 264.42 587.96 265.11 C586.06 265.79 584.15 266.44 582.23 267.06 C580.31 267.67 578.39 268.26 576.45 268.81 C574.52 269.36 572.58 269.88 570.63 270.36 C568.68 270.85 566.73 271.30 564.77 271.72 C562.81 272.14 560.84 272.53 558.87 272.89 C556.91 273.25 554.93 273.58 552.96 273.88 C550.98 274.17 549.08 274.37 547.02 274.67 C544.77 275.00 542.14 275.64 540.00 275.80 C538.23 275.93 536.82 275.70 535.11 275.73 C533.21 275.76 531.13 275.94 529.14 276.00 C527.15 276.07 525.16 276.11 523.17 276.12 C521.18 276.14 519.18 276.13 517.19 276.10 C515.20 276.07 513.20 276.02 511.21 275.96 C509.21 275.89 507.21 275.80 505.22 275.69 C503.22 275.59 501.22 275.47 499.23 275.33 C497.23 275.20 495.23 275.05 493.23 274.89 C491.23 274.72 489.23 274.55 487.23 274.36 C485.23 274.18 483.23 273.98 481.22 273.78 C479.22 273.58 477.22 273.37 475.22 273.15 C473.21 272.94 471.21 272.71 469.21 272.49 C467.20 272.26 465.20 272.03 463.19 271.81 C461.19 271.58 459.18 271.34 457.18 271.11 C455.17 270.89 453.17 270.65 451.16 270.43 C449.16 270.20 447.15 269.98 445.15 269.76 C443.14 269.55 441.13 269.33 439.13 269.13 C437.12 268.93 435.12 268.73 433.11 268.54 C431.10 268.36 429.10 268.18 427.09 268.02 C425.08 267.85 423.08 267.70 421.07 267.56 C419.06 267.43 417.06 267.30 415.05 267.19 C413.04 267.09 411.04 266.99 409.03 266.92 C407.03 266.85 405.02 266.80 403.02 266.77 C401.01 266.73 399.00 266.72 397.00 266.73 C394.99 266.75 392.99 266.78 390.99 266.83 C388.98 266.89 386.98 266.96 384.97 267.06 C382.97 267.15 380.97 267.26 378.96 267.39 C376.96 267.52 374.96 267.67 372.96 267.83 C370.95 267.99 368.95 268.16 366.95 268.35 C364.95 268.54 362.95 268.74 360.95 268.95 C358.94 269.17 356.94 269.39 354.94 269.63 C352.94 269.86 350.94 270.11 348.95 270.36 C346.95 270.61 344.95 270.87 342.95 271.13 C340.95 271.40 338.95 271.67 336.96 271.95 C334.96 272.22 332.96 272.50 330.96 272.78 C328.97 273.06 326.97 273.35 324.98 273.63 C322.98 273.92 320.99 274.21 318.99 274.49 C317.00 274.77 315.00 275.06 313.01 275.34 C311.02 275.61 309.02 275.89 307.03 276.16 C305.04 276.43 303.05 276.70 301.05 276.96 C299.06 277.22 297.07 277.48 295.08 277.72 C293.09 277.97 291.10 278.20 289.11 278.43 C287.13 278.65 285.14 278.87 283.15 279.07 C281.16 279.28 279.17 279.47 277.19 279.65 C275.20 279.82 273.21 279.99 271.23 280.14 C269.24 280.28 267.26 280.42 265.27 280.53 C263.29 280.64 261.31 280.74 259.32 280.82 C257.34 280.90 255.36 280.96 253.38 280.99 C251.40 281.03 249.41 281.05 247.43 281.04 C245.45 281.03 243.47 281.00 241.50 280.95 C239.52 280.89 237.54 280.81 235.56 280.71 C233.58 280.60 231.61 280.47 229.63 280.32 C227.66 280.16 225.68 279.98 223.71 279.77 C221.73 279.56 219.76 279.33 217.78 279.07 C215.81 278.81 213.84 278.52 211.87 278.20 C209.89 277.89 207.92 277.54 205.95 277.17 C203.98 276.80 202.01 276.40 200.04 275.97 C198.07 275.54 196.10 275.08 194.14 274.60 C192.17 274.11 190.20 273.59 188.24 273.05 C186.27 272.50 184.30 271.93 182.34 271.32 C180.37 270.71 178.40 270.08 176.44 269.41 C174.48 268.74 172.51 268.05 170.55 267.31 C168.59 266.58 166.63 265.82 164.70 265.01 C162.77 264.21 160.84 263.37 158.96 262.47 C157.09 261.57 155.23 260.64 153.43 259.64 C151.65 258.64 149.89 257.59 148.21 256.47 C146.54 255.35 144.91 254.18 143.37 252.92 C141.85 251.68 140.38 250.36 139.03 248.96 C137.68 247.56 136.40 246.09 135.26 244.52 C134.12 242.96 133.07 241.31 132.16 239.58 C131.25 237.83 130.50 235.97 129.81 234.09 C129.11 232.19 128.59 230.19 128.02 228.21 C127.45 226.23 126.99 224.20 126.42 222.22 C125.85 220.26 125.32 218.29 124.62 216.41 C123.92 214.58 123.18 212.75 122.23 211.08 C121.30 209.44 120.21 207.87 118.99 206.45 C117.78 205.03 116.41 203.73 114.95 202.56 C113.48 201.39 111.86 200.34 110.19 199.43 C108.49 198.51 106.68 197.73 104.83 197.07 C102.94 196.41 100.96 195.90 98.96 195.49 C96.92 195.08 94.81 194.86 92.71 194.62 C90.60 194.39 88.44 194.29 86.33 194.08 C84.23 193.88 82.11 193.73 80.07 193.40 C78.07 193.07 76.07 192.73 74.20 192.12 C72.38 191.52 70.57 190.80 68.98 189.77 C67.39 188.74 65.89 187.44 64.68 185.91 C63.40 184.28 62.35 182.23 61.58 180.21 C60.80 178.13 60.23 175.75 60.10 173.57 C59.97 171.50 60.12 169.32 60.70 167.44 C61.25 165.65 62.23 163.97 63.37 162.52 C64.53 161.05 66.05 159.79 67.61 158.68 C69.22 157.53 71.06 156.61 72.90 155.77 C74.76 154.93 76.75 154.25 78.70 153.65 C80.64 153.06 82.61 152.58 84.58 152.18 C86.53 151.78 88.48 151.49 90.44 151.26 C92.40 151.03 94.36 150.89 96.32 150.80 C98.29 150.72 100.27 150.71 102.25 150.74 C104.25 150.77 106.25 150.86 108.26 150.98 C110.29 151.10 112.33 151.27 114.38 151.45 C116.45 151.64 118.54 151.87 120.64 152.07 C122.74 152.27 124.86 152.50 126.97 152.66 C129.07 152.81 131.18 152.96 133.27 152.98 C135.32 153.00 137.37 152.98 139.38 152.78 C141.35 152.59 143.31 152.32 145.19 151.83 C147.03 151.34 149.02 150.82 150.54 149.87 C151.96 148.98 153.55 147.80 154.13 146.41 C154.70 145.05 154.54 143.16 154.07 141.66 C153.56 140.05 152.24 138.52 150.97 137.11 C149.58 135.57 147.72 134.22 145.96 132.87 C144.13 131.48 142.08 130.22 140.18 128.91 C138.35 127.65 136.48 126.44 134.76 125.18 C133.12 123.99 131.56 122.80 130.06 121.57 C128.61 120.38 127.23 119.17 125.88 117.92 C124.54 116.68 123.26 115.42 121.97 114.10 C120.66 112.76 119.38 111.38 118.10 109.94 C116.77 108.46 115.43 106.93 114.13 105.36 C112.81 103.75 111.49 102.09 110.24 100.39 C108.98 98.68 107.74 96.92 106.61 95.11 C105.48 93.31 104.39 91.46 103.45 89.58 C102.51 87.72 101.64 85.81 100.95 83.87 C100.27 81.96 99.68 80.01 99.31 78.05 C98.95 76.11 98.72 74.13 98.74 72.18 C98.76 70.23 98.97 68.23 99.43 66.33 C99.89 64.42 100.57 62.48 101.49 60.76 C102.38 59.07 103.49 57.39 104.82 56.10 C106.12 54.83 107.67 53.68 109.33 53.02 C111.02 52.36 112.99 52.14 114.90 52.19 C116.93 52.24 119.09 52.85 121.16 53.47 C123.31 54.11 125.48 55.09 127.56 56.02 C129.60 56.93 131.58 58.00 133.52 58.97 C135.38 59.91 137.15 60.90 138.96 61.76 C140.71 62.60 142.42 63.43 144.21 64.07 C145.97 64.71 147.76 65.27 149.61 65.60 C151.50 65.95 153.48 66.10 155.45 66.11 C157.47 66.13 159.55 65.94 161.59 65.68 C163.65 65.41 165.73 64.99 167.74 64.51 C169.75 64.02 171.72 63.43 173.66 62.78 C175.58 62.13 177.46 61.40 179.32 60.62 C181.17 59.85 182.99 59.00 184.80 58.13 C186.60 57.27 188.37 56.34 190.14 55.42 C191.91 54.49 193.66 53.53 195.42 52.58 C197.18 51.62 198.93 50.65 200.69 49.71 C202.45 48.77 204.22 47.82 206.01 46.92 C207.80 46.02 209.60 45.13 211.43 44.31 C213.27 43.49 215.13 42.69 217.02 41.98 C218.93 41.27 220.87 40.61 222.84 40.04 C224.82 39.47 226.84 38.96 228.87 38.56 C230.90 38.16 232.96 37.84 235.00 37.63 C237.04 37.42 239.09 37.30 241.12 37.30 C243.12 37.31 245.13 37.41 247.09 37.65 C249.02 37.89 250.95 38.24 252.80 38.74 C254.63 39.24 256.42 39.87 258.13 40.64 C259.82 41.41 261.44 42.35 263.00 43.38 C264.56 44.41 266.04 45.59 267.48 46.83 C268.93 48.08 270.31 49.45 271.65 50.86 C273.02 52.28 274.32 53.80 275.62 55.33 C276.93 56.88 278.19 58.49 279.45 60.10 C280.73 61.73 281.98 63.40 283.26 65.05 C284.53 66.70 285.80 68.38 287.11 70.02 C288.42 71.66 289.73 73.30 291.10 74.88 C292.47 76.45 293.87 78.01 295.33 79.49 C296.79 80.97 298.30 82.39 299.85 83.75 C301.40 85.11 303.01 86.40 304.65 87.63 C306.29 88.87 307.97 90.04 309.69 91.14 C311.41 92.25 313.17 93.29 314.96 94.27 C316.74 95.25 318.56 96.16 320.41 97.01 C322.25 97.86 324.13 98.65 326.02 99.37 C327.91 100.10 329.83 100.75 331.76 101.35 C333.69 101.94 335.64 102.46 337.60 102.93 C339.56 103.39 341.54 103.78 343.52 104.11 C345.49 104.44 347.48 104.70 349.47 104.90 C351.45 105.10 353.44 105.23 355.43 105.29 C357.41 105.35 359.40 105.35 361.38 105.28 C363.35 105.21 365.33 105.07 367.29 104.88 C369.26 104.69 371.22 104.44 373.17 104.13 C375.13 103.83 377.08 103.47 379.03 103.06 C380.97 102.65 382.91 102.20 384.84 101.70 C386.78 101.20 388.71 100.66 390.63 100.08 C392.56 99.50 394.47 98.88 396.38 98.23 C398.30 97.58 400.20 96.90 402.10 96.19 C404.01 95.48 405.90 94.74 407.79 93.98 C409.68 93.23 411.56 92.44 413.44 91.65 C415.32 90.85 417.19 90.03 419.06 89.21 C420.93 88.39 422.79 87.55 424.64 86.70 C426.50 85.86 428.34 85.01 430.19 84.16 C432.03 83.32 433.87 82.46 435.70 81.62 C437.53 80.77 439.36 79.92 441.18 79.08 C443.00 78.23 444.81 77.39 446.63 76.54 C448.44 75.70 450.24 74.86 452.05 74.01 C453.85 73.16 455.65 72.32 457.44 71.46 C459.24 70.61 461.03 69.76 462.82 68.90 C464.61 68.05 466.40 67.19 468.18 66.32 C469.96 65.46 471.75 64.59 473.52 63.71 C475.31 62.84 477.08 61.95 478.86 61.07 C480.64 60.18 482.42 59.28 484.19 58.38 C485.97 57.48 487.74 56.57 489.52 55.65 C491.29 54.73 493.11 53.90 494.84 52.86 C496.61 51.79 498.20 50.27 500.00 49.30 Z" fill="none" stroke="#444444" stroke-width="3.2"/>
<text x="202.20" y="164.00" font-size="35.90" font-weight="bold" fill="#000" stroke="#000" stroke-width="1.40" stroke-linejoin="round" textLength="202.62" lengthAdjust="spacingAndGlyphs">ALLOPATRIC</text>
<text x="181.78" y="203.10" font-size="35.76" font-weight="bold" fill="#000" stroke="#000" stroke-width="1.40" stroke-linejoin="round" textLength="237.92" lengthAdjust="spacingAndGlyphs">POPULATION 1</text>
<text x="708.10" y="136.90" font-size="35.47" font-weight="bold" fill="#000" stroke="#000" stroke-width="1.40" stroke-linejoin="round" textLength="201.34" lengthAdjust="spacingAndGlyphs">ALLOPATRIC</text>
<text x="686.44" y="176.70" font-size="35.90" font-weight="bold" fill="#000" stroke="#000" stroke-width="1.40" stroke-linejoin="round" textLength="243.65" lengthAdjust="spacingAndGlyphs">POPULATION 2</text>
<text x="488.00" y="135.70" font-size="26.31" font-weight="bold" fill="#000" stroke="#000" stroke-width="1.10" stroke-linejoin="round" textLength="145.99" lengthAdjust="spacingAndGlyphs">SYMPATRIC</text>
<text x="478.36" y="166.60" font-size="27.33" font-weight="bold" fill="#000" stroke="#000" stroke-width="1.10" stroke-linejoin="round" textLength="166.16" lengthAdjust="spacingAndGlyphs">POPULATION</text>
<text x="526.20" y="188.60" font-size="15.26" font-weight="bold" fill="#4a4546" stroke="#4a4546" stroke-width="0.70" stroke-linejoin="round" textLength="69.90" lengthAdjust="spacingAndGlyphs">(ZONE OF</text>
<text x="515.20" y="206.00" font-size="16.13" font-weight="bold" fill="#4a4546" stroke="#4a4546" stroke-width="0.70" stroke-linejoin="round" textLength="90.88" lengthAdjust="spacingAndGlyphs">SECONDARY</text>
<text x="521.60" y="225.70" font-size="15.26" font-weight="bold" fill="#4a4546" stroke="#4a4546" stroke-width="0.70" stroke-linejoin="round" textLength="78.38" lengthAdjust="spacingAndGlyphs">CONTACT)</text>
<path d="M2.2 324 L24.4 285.8 L46.8 324 L36.9 324 L36.9 461.5 L46.8 461.5 L24.5 500.4 L2.2 461.5 L12.4 461.5 L12.4 324 Z" fill="#454545"/>
<text transform="translate(33.1 462.3) rotate(-90)" x="0.00" y="0" font-size="22.82" font-weight="normal" fill="#ffffff" stroke="#454545" stroke-width="0.5" textLength="139.38" lengthAdjust="spacingAndGlyphs">TRAIT CHANGE</text>
<path d="M58.8 283.5 L58.8 502.4 L1033.4 502.4" fill="none" stroke="#000" stroke-width="4.4" stroke-linejoin="miter"/>
<path d="M80.6 400.8 L300.7 400.8 C471.5 400.8 445.5 332 601.8 332 L658.2 332" fill="none" stroke="url(#gPop1)" stroke-width="13.2"/>
<path d="M433 471.7 L486.8 471.7 C630.9 471.7 620.9 402.8 784.5 402.8 L1011 402.8" fill="none" stroke="url(#gPop2)" stroke-width="13.2"/>
<circle cx="546.2" cy="404.3" r="108.2" fill="none" stroke="#7a7a7a" stroke-opacity="0.55" stroke-width="4.4"/>
<text x="80.62" y="390.30" font-size="22.24" font-weight="bold" fill="#000" stroke="#000" stroke-width="0.60" stroke-linejoin="round" textLength="159.33" lengthAdjust="spacingAndGlyphs">POPULATION 1</text>
<text x="849.38" y="390.30" font-size="21.80" font-weight="bold" fill="#000" stroke="#000" stroke-width="0.60" stroke-linejoin="round" textLength="162.04" lengthAdjust="spacingAndGlyphs">POPULATION 2</text>
<text x="485.76" y="394.30" font-size="16.86" font-weight="bold" fill="#444444" stroke="#444444" stroke-width="0.80" stroke-linejoin="round" textLength="126.48" lengthAdjust="spacingAndGlyphs">REPRODUCTIVE</text>
<text x="498.60" y="414.10" font-size="16.86" font-weight="bold" fill="#444444" stroke="#444444" stroke-width="0.80" stroke-linejoin="round" textLength="101.57" lengthAdjust="spacingAndGlyphs">CHARACTER</text>
<text x="486.87" y="433.90" font-size="16.86" font-weight="bold" fill="#444444" stroke="#444444" stroke-width="0.80" stroke-linejoin="round" textLength="124.08" lengthAdjust="spacingAndGlyphs">DISPLACEMENT</text>
</svg>
</body></html>
